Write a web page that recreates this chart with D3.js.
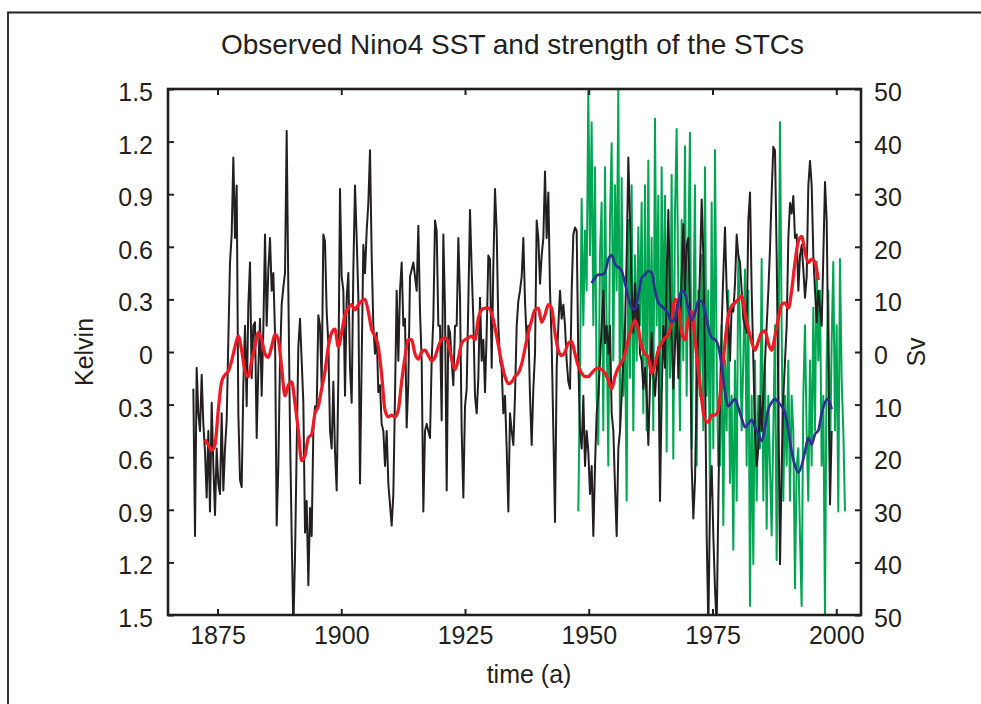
<!DOCTYPE html>
<html><head><meta charset="utf-8">
<script src="https://cdn.jsdelivr.net/npm/d3@7"></script>
<style>
html,body{margin:0;padding:0;background:#fff;}
svg{display:block;}
text{font-family:"Liberation Sans",Arial,Helvetica,sans-serif;fill:#231f20;}
</style></head><body>
<svg id="chart" width="981" height="704"></svg>
<script>
const titleText = "Observed Nino4 SST and strength of the STCs";
const xLabel = "time (a)", yLeftLabel = "Kelvin", yRightLabel = "Sv";
const xTickYears = [1875, 1900, 1925, 1950, 1975, 2000];
const kelvinTicks = [1.5, 1.2, 0.9, 0.6, 0.3, 0, -0.3, -0.6, -0.9, -1.2, -1.5];
const svTicks = [50, 40, 30, 20, 10, 0, -10, -20, -30, -40, -50];

// Nino4 SST anomaly (K), sampled every ~1/3 year from 1870.1
const sstStart = 1870.12, sstStep = 0.3367;
const sstValues = [
-0.21,-1.05,-0.09,-0.35,-0.45,-0.13,-0.41,-0.57,-0.83,-0.45,
-0.91,-0.29,-0.65,-0.93,-0.55,-0.75,-0.81,-0.35,-0.79,-0.55,
-0.39,0.07,0.51,0.67,1.11,0.65,0.95,-0.35,-0.73,-0.77,
-0.19,0.15,-0.31,0.27,0.51,-0.15,0.15,0.17,-0.49,-0.09,
0.19,-0.25,0.13,0.67,0.15,0.47,0.65,0.35,0.45,0.11,
-0.99,-0.65,-0.05,0.27,0.37,0.45,1.26,0.35,-0.45,-1.05,
-1.57,-1.17,-0.55,0.03,0.19,-0.05,-0.29,-1.03,-0.85,-1.33,
-0.89,-1.05,-0.45,-0.31,-0.33,0.21,0.15,-0.19,0.67,0.63,
0.23,0.05,-0.45,-0.55,-0.17,-0.57,-0.79,-0.15,0.93,0.43,
0.35,-0.25,0.31,0.45,-0.09,-0.29,0.47,0.95,0.65,0.31,
-0.75,-0.05,0.61,0.45,0.69,0.85,1.15,0.55,0.15,-0.01,
0.11,-0.23,-0.19,-0.41,-0.45,-0.65,-0.45,-0.75,-0.87,-0.99,
-0.81,-0.25,0.35,-0.05,
0.35,0.51,0.15,0.19,-0.43,-0.17,0.43,0.47,0.51,0.43,
0.35,0.72,0.23,-0.05,-0.91,-0.45,-0.41,-0.45,-0.49,-0.05,
0.19,0.75,0.69,0.15,0.15,-0.39,0.67,0.25,-0.79,0.15,
0.11,-0.05,-0.19,0.15,0.15,0.65,0.31,-0.45,-0.83,-0.31,
-0.21,0.29,0.81,0.47,0.19,-0.25,-0.35,-0.15,0.31,-0.05,
0.07,-0.23,0.11,0.55,0.53,-0.09,0.49,0.93,0.69,0.15,
-0.05,-0.09,-0.35,-0.25,-0.55,-0.91,-0.35,-0.45,-0.53,-0.25,
0.15,0.29,0.35,0.43,0.65,0.29,0.07,0.15,-0.25,-0.53,
-0.21,-0.01,0.75,0.65,0.39,0.55,0.65,1.03,0.65,0.91,
0.35,0.05,-0.45,-0.97,-0.09,0.15,
0.35,0.19,0.27,0.15,-0.05,-0.17,-0.21,0.35,0.67,0.71,
0.69,-0.05,-0.45,-0.55,-0.25,-0.65,-0.45,-0.57,-0.81,-0.65,
-1.05,-0.65,-0.35,-0.25,-0.05,0.15,0.35,0.05,0.15,-0.01,
0.15,-0.35,-0.45,-0.77,-1.05,-0.55,-0.45,-0.25,-0.05,0.15,
0.55,1.11,0.75,0.35,0.11,0.39,0.15,0.27,-0.01,-0.05,
-0.21,-0.09,-0.25,-0.53,-0.17,0.11,-0.13,-0.25,-0.09,0.03,
-0.85,-0.25,0.15,-0.09,0.43,0.81,0.35,0.07,-0.21,0.03,
0.27,-0.15,0.15,0.43,0.73,0.35,0.61,0.65,0.25,-0.65,
-0.95,-0.73,-0.21,0.15,0.47,0.87,0.55,-0.05,-1.05,-1.57,
-0.85,-0.65,-1.05,-1.35,-1.57,-0.85,
-0.25,0.15,0.45,0.71,0.35,0.15,-0.05,0.27,0.23,0.39,
0.67,0.55,0.51,0.35,0.19,0.15,0.11,0.75,0.91,0.35,
-0.05,-0.45,-0.65,-0.55,-0.25,-0.45,-0.25,-0.05,0.15,0.35,
0.59,0.91,1.17,1.15,0.55,-0.25,-1.21,-0.65,-0.25,-0.05,
0.15,0.65,0.85,0.79,0.89,0.65,0.67,0.35,0.55,0.61,
0.47,0.31,0.43,0.95,1.09,0.95,0.55,0.35,0.17,0.35,
0.25,0.15,0.55,0.97,0.75,-0.05,-0.87,-0.45
];

// smoothed SST (K), every ~2/3 year from 1872.5
const smoothStep = 0.6734;
const sstSmoothStart = 1872.47;
const sstSmoothValues = [
-0.50,-0.53,-0.56,-0.53,-0.33,-0.17,-0.13,-0.11,-0.05,0.03,
0.09,0.01,-0.11,-0.14,-0.05,0.03,0.11,0.07,-0.01,-0.03,
0.03,0.10,0.07,-0.09,-0.25,-0.19,-0.17,-0.29,-0.45,-0.62,
-0.59,-0.49,-0.47,-0.35,-0.31,-0.21,-0.11,0.03,0.11,0.13,
0.03,0.11,0.21,0.25,0.27,0.24,0.27,0.29,0.30,0.23,
0.13,0.09,0.03,-0.13,-0.33,-0.37,-0.36,-0.37,-0.33,
-0.17,-0.03,0.07,0.07,-0.01,-0.04,0.00,0.01,-0.02,-0.05,
-0.03,0.03,0.07,0.08,0.05,-0.04,-0.10,-0.04,0.05,0.07,
0.08,0.09,0.07,0.19,0.24,0.25,0.25,0.22,0.14,0.04,
-0.06,-0.14,-0.18,-0.17,-0.14,-0.12,-0.07,0.02,0.11,0.18,
0.24,0.25,0.17,0.21,0.27,0.25,0.11,0.01,
-0.02,0.00,0.05,0.06,-0.01,-0.08,-0.12,-0.14,-0.14,-0.12,
-0.10,-0.09,-0.10,-0.12,-0.16,-0.21,-0.14,-0.09,-0.06,-0.01,
0.07,0.14,0.18,0.13,0.03,-0.01,-0.03,-0.12,-0.07,0.01,
0.05,0.08,0.10,0.17,0.30,0.27,0.11,0.07,0.19,0.23,
0.07,-0.10,-0.27,-0.39,-0.40,-0.36,-0.36,-0.33,
-0.15,0.05,0.21,0.26,0.28,0.30,0.32,0.22,0.13,0.06,
0.01,0.06,0.11,0.12,0.05,0.01,0.09,0.19,0.27,0.28,
0.25,0.35,0.51,0.63,0.66,0.57,0.51,0.53,0.51,0.41
];

// STC strength (Sv), every ~1/3 year from 1947.9
const stcStart = 1947.89;
const stcValues = [
-30.3,-4.9,29.1,5.1,23.1,11.7,49.7,18.4,43.7,5.1,
35.1,-8.3,-17.6,18.4,28.4,-14.9,35.1,5.1,-21.6,25.1,
39.7,-1.6,31.7,11.7,49.7,-14.9,33.1,-8.3,5.1,-28.3,
25.1,-4.9,31.7,-14.9,18.4,-1.6,23.7,5.1,28.4,-11.6,
31.7,-14.9,36.4,-4.9,21.7,-14.9,44.4,5.1,29.7,-18.3,
35.1,1.7,29.7,-18.9,18.4,-4.9,33.7,-20.3,26.4,42.4,
11.7,-14.9,25.1,-1.6,39.1,-8.3,18.4,41.7,-18.3,5.1,
31.7,-21.6,11.7,-8.3,18.4,-14.9,35.1,-8.3,11.7,-28.3,
28.4,-18.3,38.4,-1.6,-21.6,
-21.6,5.1,-32.9,-1.6,-14.9,11.7,-24.9,-8.3,-37.6,-1.6,
-28.3,18.4,5.1,-14.9,-1.6,15.7,-21.6,11.7,-48.3,-8.3,
-40.3,-1.6,-28.3,-8.3,-18.3,17.7,-28.3,-1.6,-33.6,-8.3,
-21.6,-34.9,-14.9,5.1,-39.6,-8.3,43.7,5.1,-28.3,-8.3,
-21.6,-1.6,-28.3,-8.3,-14.9,-44.9,-21.6,-18.3,-34.9,-48.3,
-8.3,5.1,-14.9,-28.3,-1.6,-21.6,8.4,-14.9,17.1,-1.6,
11.7,-21.6,-8.3,-50.3,-1.6,11.7,-21.6,1.7,17.1,-14.9,
5.1,-30.3,17.7,-4.9,-14.9,-30.3
];

// smoothed STC strength (Sv), every ~2/3 year from 1950.6
const stcSmoothStart = 1950.59;
const stcSmoothValues = [
13.1,14.1,14.7,14.7,15.1,17.7,18.4,16.7,16.1,15.4,
13.1,10.4,8.4,8.1,10.7,14.1,14.7,15.4,15.1,11.7,
9.4,8.7,8.1,7.1,5.7,6.4,9.4,11.7,11.1,8.1,
6.1,7.4,9.7,9.7,7.7,4.7,2.7,2.4,1.1,
-2.6,-7.6,-10.3,-9.6,-8.9,-10.6,-12.6,-14.3,-13.6,-12.9,
-14.3,-15.6,-16.9,-14.3,-10.9,-9.6,-8.9,-9.6,-10.3,-11.6,
-14.9,-18.9,-21.6,-22.9,-21.6,-18.9,-16.3,-17.6,-15.6,-14.9,
-11.6,-9.6,-8.9,-10.9
];

const colors = {sst: "#231f20", sstSmooth: "#ed1c24", stc: "#00a651", stcSmooth: "#2e3192", ink: "#231f20"};

const W = 981, H = 704;
const L = 168, R = 861, T = 89, B = 615;
const svg = d3.select("#chart");

const x = d3.scaleLinear().domain([1865, 2005]).range([L, R]);
const yK = d3.scaleLinear().domain([-1.5, 1.5]).range([B, T]);
const ySv = d3.scaleLinear().domain([-50, 50]).range([B, T]);

// outer frame (partially cut off)
svg.append("path")
  .attr("d", `M8,${H + 2}V12.5H${W + 2}`)
  .attr("fill", "none").attr("stroke", colors.ink).attr("stroke-width", 1.8);

// title
svg.append("text").attr("x", (L + R) / 2 - 2).attr("y", 54)
  .attr("text-anchor", "middle").attr("font-size", 28).text(titleText);

// clip
svg.append("defs").append("clipPath").attr("id", "plotclip")
  .append("rect").attr("x", L).attr("y", T).attr("width", R - L).attr("height", B - T);

const series = (start, step, vals) => vals.map((v, i) => ({t: start + i * step, v}));
const gPlot = svg.append("g").attr("clip-path", "url(#plotclip)");

const lineK = d3.line().x(d => x(d.t)).y(d => yK(d.v));
const lineSv = d3.line().x(d => x(d.t)).y(d => ySv(d.v));

gPlot.append("path").datum(series(stcStart, sstStep, stcValues))
  .attr("d", lineSv).attr("fill", "none").attr("stroke", colors.stc).attr("stroke-width", 2).attr("stroke-linejoin", "round");
gPlot.append("path").datum(series(sstStart, sstStep, sstValues))
  .attr("d", lineK).attr("fill", "none").attr("stroke", colors.sst).attr("stroke-width", 2).attr("stroke-linejoin", "round");
gPlot.append("path").datum(series(sstSmoothStart, smoothStep, sstSmoothValues))
  .attr("d", lineK.curve(d3.curveMonotoneX)).attr("fill", "none").attr("stroke", colors.sstSmooth).attr("stroke-width", 3.3).attr("stroke-linejoin", "round");
gPlot.append("path").datum(series(stcSmoothStart, smoothStep, stcSmoothValues))
  .attr("d", lineSv.curve(d3.curveMonotoneX)).attr("fill", "none").attr("stroke", colors.stcSmooth).attr("stroke-width", 2.7).attr("stroke-linejoin", "round");

// axes
const fmtAbs = d => String(Math.round(Math.abs(d) * 10) / 10);
function styleAxis(g) {
  g.select(".domain").remove();
  g.selectAll(".tick line").attr("stroke", colors.ink).attr("stroke-width", 2);
  g.selectAll(".tick text").attr("font-size", 25).attr("fill", colors.ink)
    .attr("font-family", '"Liberation Sans",Arial,Helvetica,sans-serif');
}
svg.append("g").attr("transform", `translate(0,${B})`)
  .call(d3.axisBottom(x).tickValues(xTickYears).tickSize(-6).tickSizeOuter(0).tickPadding(11).tickFormat(d3.format("d")))
  .call(styleAxis);
svg.append("g").attr("transform", `translate(0,${T})`)
  .call(d3.axisTop(x).tickValues(xTickYears).tickSize(-6).tickSizeOuter(0).tickFormat(""))
  .call(styleAxis);
svg.append("g").attr("transform", `translate(${L},0)`)
  .call(d3.axisLeft(yK).tickValues(kelvinTicks).tickSize(-6).tickSizeOuter(0).tickPadding(15).tickFormat(fmtAbs))
  .call(styleAxis)
  .call(g => g.selectAll(".tick text").attr("dy", "0.46em"));
svg.append("g").attr("transform", `translate(${R},0)`)
  .call(d3.axisRight(ySv).tickValues(svTicks).tickSize(-6).tickSizeOuter(0).tickPadding(13).tickFormat(fmtAbs))
  .call(styleAxis)
  .call(g => g.selectAll(".tick text").attr("dy", "0.46em"));

// plot frame
svg.append("rect").attr("x", L).attr("y", T).attr("width", R - L).attr("height", B - T)
  .attr("fill", "none").attr("stroke", colors.ink).attr("stroke-width", 2.6);

// axis labels
svg.append("text").attr("x", 529).attr("y", 683).attr("text-anchor", "middle").attr("font-size", 25).text(xLabel);
svg.append("text").attr("transform", "translate(93,352) rotate(-90)").attr("text-anchor", "middle").attr("font-size", 25).text(yLeftLabel);
svg.append("text").attr("transform", "translate(925,352) rotate(-90)").attr("text-anchor", "middle").attr("font-size", 25).text(yRightLabel);
</script>
</body></html>
